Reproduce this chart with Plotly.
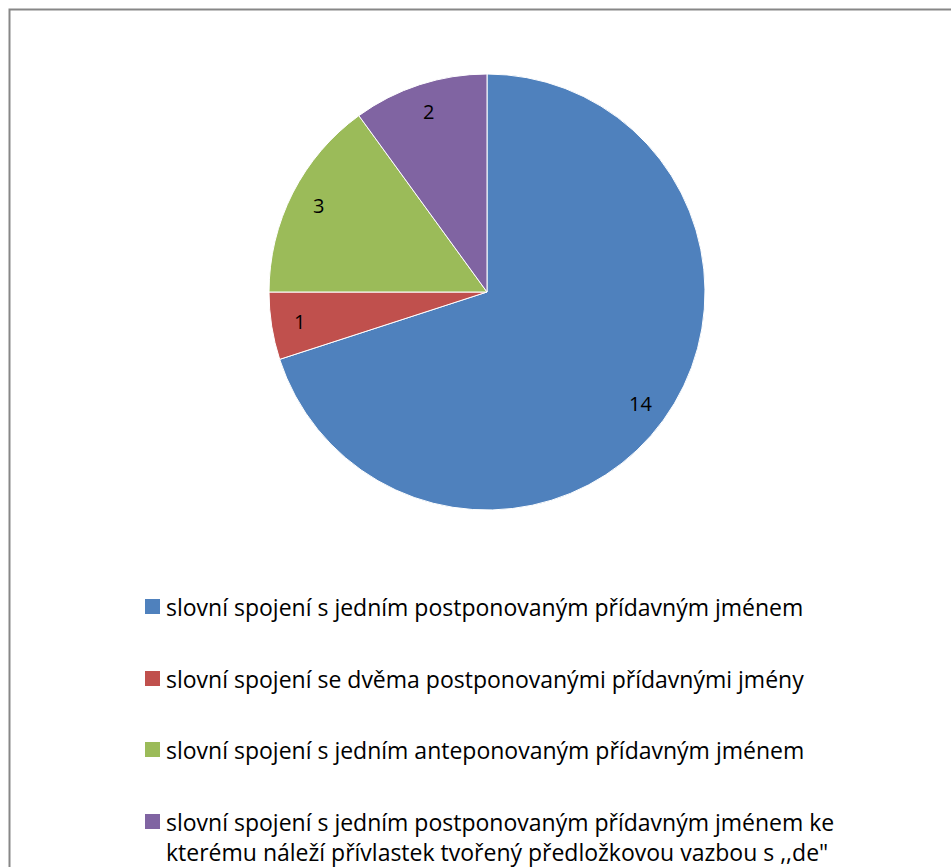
import math
import plotly.graph_objects as go

categories = [
    "slovní spojení s jedním postponovaným přídavným jménem",
    "slovní spojení se dvěma postponovanými přídavnými jmény",
    "slovní spojení s jedním anteponovaným přídavným jménem",
    "slovní spojení s jedním postponovaným přídavným jménem ke<br>kterému náleží přívlastek tvořený předložkovou vazbou s ,,de\"",
]
values = [14, 1, 3, 2]
colors = ["#4F81BD", "#C0504D", "#9BBB59", "#8064A2"]

W, H = 951, 867
FONT = "Open Sans"
CX, CY, R = 487, 292, 218

fig = go.Figure()
fig.add_trace(go.Pie(
    values=values,
    labels=[c.split("<br>")[0] for c in categories],
    sort=False,
    direction="clockwise",
    rotation=0,
    marker=dict(colors=colors, line=dict(color="white", width=1)),
    textinfo="none",
    domain=dict(x=[(CX - R) / W, (CX + R) / W], y=[1 - (CY + R) / H, 1 - (CY - R) / H]),
    showlegend=False,
    hoverinfo="skip",
))

shapes = [dict(type="rect", xref="paper", yref="paper",
               x0=9.5 / W, y0=-0.2, x1=1.2, y1=1 - 9.5 / H,
               line=dict(color="#878787", width=2), fillcolor="rgba(0,0,0,0)")]
annotations = []

# data labels placed at slice mid-angles (Excel "best fit" style)
total = sum(values)
cum = 0
for v in values:
    mid = (cum + v / 2) / total * 2 * math.pi
    cum += v
    x = CX + 0.87 * R * math.sin(mid)
    y = CY - 0.87 * R * math.cos(mid)
    annotations.append(dict(xref="paper", yref="paper", x=x / W, y=1 - y / H,
                            xanchor="center", yanchor="middle", showarrow=False,
                            text=str(v), font=dict(family=FONT, size=20, color="black")))

# legend drawn as squares + text
leg_y = [607, 679, 750, 822]
for cat, col, yc in zip(categories, colors, leg_y):
    shapes.append(dict(type="rect", xref="paper", yref="paper",
                       x0=145 / W, x1=160 / W, y0=1 - (yc + 7) / H, y1=1 - (yc - 8) / H,
                       fillcolor=col, line=dict(width=0)))
    annotations.append(dict(xref="paper", yref="paper", x=164 / W, y=1 - (yc - 18) / H,
                            xanchor="left", yanchor="top", align="left", showarrow=False,
                            text=cat, font=dict(family=FONT, size=23, color="black")))

fig.update_layout(
    width=W, height=H,
    margin=dict(l=0, r=0, t=0, b=0),
    paper_bgcolor="white",
    plot_bgcolor="white",
    shapes=shapes,
    annotations=annotations,
)
fig.write_html("out.html")
